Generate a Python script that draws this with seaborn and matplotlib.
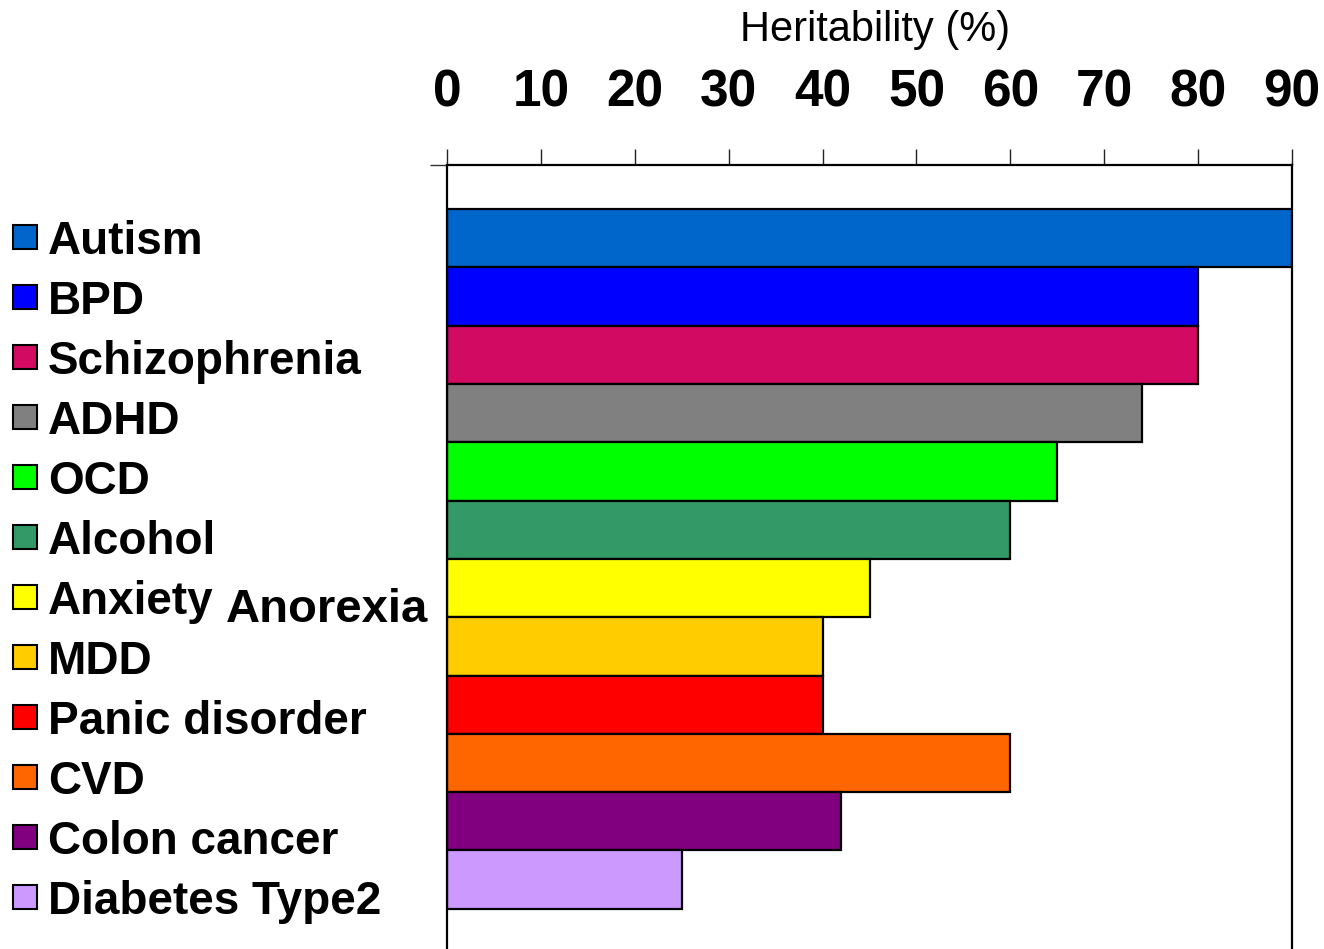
import matplotlib
matplotlib.use("Agg")
import matplotlib.pyplot as plt
from matplotlib.patches import Rectangle
import seaborn as sns
import pandas as pd

# Heritability estimates (%) by condition
categories = ["Autism", "BPD", "Schizophrenia", "ADHD", "OCD", "Alcohol",
              "Anxiety", "MDD", "Panic disorder", "CVD", "Colon cancer",
              "Diabetes Type2"]
heritability = [90, 80, 80, 74, 65, 60, 45, 40, 40, 60, 42, 25]
colors = ["#0066CC", "#0000FF", "#D20A62", "#808080", "#00FF00", "#339966",
          "#FFFF00", "#FFCC00", "#FF0000", "#FF6600", "#800080", "#CC99FF"]
x_ticks = [0, 10, 20, 30, 40, 50, 60, 70, 80, 90]

sns.set_theme(style="white")
plt.rcParams["font.family"] = ["Liberation Sans", "DejaVu Sans"]
plt.rcParams["text.color"] = "black"
plt.rcParams["xtick.color"] = "black"
plt.rcParams["ytick.color"] = "black"

df = pd.DataFrame({"condition": categories, "heritability": heritability})

W, H = 1324, 949
fig = plt.figure(figsize=(W / 100, H / 100), dpi=100)
ax = fig.add_axes([447 / W, 0.0, (1292 - 447) / W, 1 - 165 / H])

sns.barplot(data=df, y="condition", x="heritability", hue="condition",
            palette=colors, orient="h", width=1.0, edgecolor="black",
            linewidth=1.6, legend=False, ax=ax, saturation=1)

ax.set_xlim(0, 90)
ax.set_ylim(12.19, -1.255)
ax.set_xlabel("")
ax.set_ylabel("")

# Value axis on top with bold tick labels
ax.xaxis.tick_top()
ax.set_xticks(x_ticks)
ax.set_xticklabels([str(t) for t in x_ticks], fontsize=37, fontweight="bold",
                   color="black")
ax.tick_params(axis="x", direction="out", length=11.5, width=1.0,
               color="#222222", pad=23, top=True, bottom=False)
ax.set_yticks([ax.get_ylim()[1]])
ax.set_yticklabels([""])
ax.tick_params(axis="y", direction="out", length=12, width=1.0,
               color="#333333", left=True)

for side in ("top", "left", "right"):
    ax.spines[side].set_visible(True)
    ax.spines[side].set_color("black")
    ax.spines[side].set_linewidth(1.6)
ax.spines["bottom"].set_visible(False)

fig.text(875 / W, 1 - 30 / H, "Heritability (%)", ha="center", va="center",
         fontsize=30, color="black")

# Color key on the left
y0, step = 237, 60.0
for i, (name, col) in enumerate(zip(categories, colors)):
    yc = y0 + i * step
    fig.patches.append(Rectangle((13 / W, 1 - (yc + 12) / H), 24 / W, 24 / H,
                                 transform=fig.transFigure, facecolor=col,
                                 edgecolor="black", linewidth=1.5))
    fig.text(48 / W, 1 - yc / H, name, ha="left", va="center_baseline",
             fontsize=33, fontweight="bold", color="black")

fig.text(226 / W, 1 - 605 / H, "Anorexia", ha="left", va="center_baseline",
         fontsize=34, fontweight="bold", color="black")

fig.savefig("out.png", dpi=100, facecolor="white")
